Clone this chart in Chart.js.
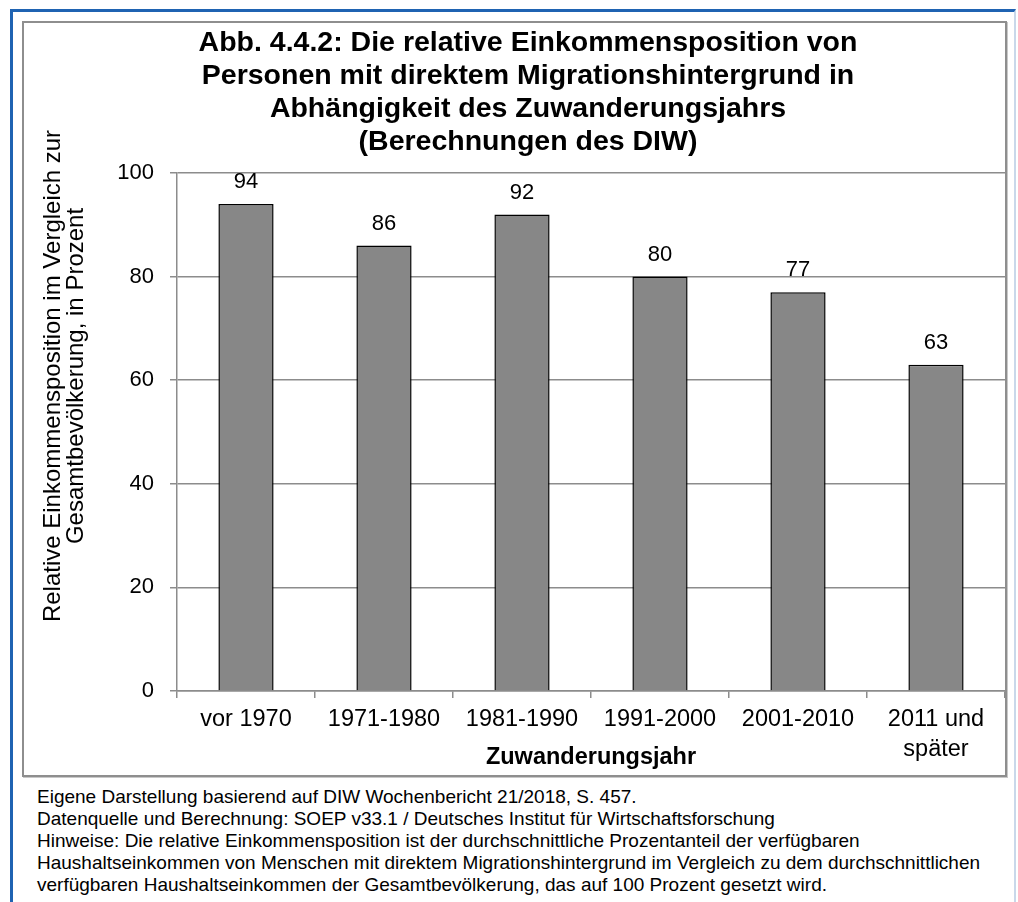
<!DOCTYPE html>
<html lang="de">
<head>
<meta charset="utf-8">
<title>Abb. 4.4.2</title>
<script src="https://cdn.jsdelivr.net/npm/chart.js@4/dist/chart.umd.min.js"></script>
<style>
    html, body { margin: 0; padding: 0; background: #fff; }
    body { width: 1018px; height: 902px; position: relative; overflow: hidden; font-family: "Liberation Sans", Arial, sans-serif; }
    #frame {
        position: absolute; left: 10px; top: 9px; width: 1001px; height: 1000px;
        border-top: 3px solid #1f63b2; border-left: 3px solid #1f63b2; border-right: 2px solid #c9d8ea;
    }
    #box {
        position: absolute; left: 22px; top: 21px; width: 981px; height: 752px;
        border: 2px solid #8e8e8e; box-shadow: 1px 1px 0 #c8c8c8; background: #fff;
    }
    #notes {
        position: absolute; left: 37px; top: 786px; font-size: 19px; line-height: 22px; color: #000;
    }
</style>
</head>
<body>
<div id="frame"></div>
<div id="box"><canvas id="chart" width="981" height="752"></canvas></div>
<div id="notes">
    Eigene Darstellung basierend auf DIW Wochenbericht 21/2018, S. 457.<br>
    Datenquelle und Berechnung: SOEP v33.1 / Deutsches Institut für Wirtschaftsforschung<br>
    Hinweise: Die relative Einkommensposition ist der durchschnittliche Prozentanteil der verfügbaren<br>
    Haushaltseinkommen von Menschen mit direktem Migrationshintergrund im Vergleich zu dem durchschnittlichen<br>
    verfügbaren Haushaltseinkommen der Gesamtbevölkerung, das auf 100 Prozent gesetzt wird.
</div>
<script>
// --- DONNÉES ---
const categories = ['vor 1970', '1971-1980', '1981-1990', '1991-2000', '2001-2010', ['2011 und', 'später']];
const values = [94, 86, 92, 80, 77, 63];
const yTicks = [0, 20, 40, 60, 80, 100];

const titleLines = [
    'Abb. 4.4.2: Die relative Einkommensposition von',
    'Personen mit direktem Migrationshintergrund in',
    'Abhängigkeit des Zuwanderungsjahrs',
    '(Berechnungen des DIW)'
];
const yTitleLines = ['Relative Einkommensposition im Vergleich zur', 'Gesamtbevölkerung, in Prozent'];
const xTitle = 'Zuwanderungsjahr';

const FONT = '"Liberation Sans", Arial, sans-serif';
const GRID = '#8c8c8c';

// titres + étiquettes de valeurs
const textPlugin = {
    id: 'texts',
    afterDatasetsDraw(chart) {
        const ctx = chart.ctx;
        const meta = chart.getDatasetMeta(0);
        ctx.save();
        ctx.fillStyle = '#000';
        ctx.font = '22px ' + FONT;
        ctx.textAlign = 'center';
        ctx.textBaseline = 'middle';
        meta.data.forEach((bar, i) => ctx.fillText(String(values[i]), bar.x, bar.y - 22));
        ctx.restore();
    },
    afterDraw(chart) {
        const ctx = chart.ctx;
        const area = chart.chartArea;
        ctx.save();
        ctx.fillStyle = '#000';
        ctx.textAlign = 'center';
        ctx.textBaseline = 'middle';

        // titre principal
        ctx.font = 'bold 28.5px ' + FONT;
        titleLines.forEach((t, i) => ctx.fillText(t, 504, 20 + i * 33));

        // titre axe X
        ctx.font = 'bold 23.5px ' + FONT;
        ctx.fillText(xTitle, (area.left + area.right) / 2, 735);

        // titre axe Y (vertical)
        ctx.font = '24px ' + FONT;
        ctx.translate(0, 353);
        ctx.rotate(-Math.PI / 2);
        yTitleLines.forEach((t, i) => ctx.fillText(t, 0, 29 + i * 23));
        ctx.restore();
    }
};

new Chart(document.getElementById('chart'), {
    type: 'bar',
    data: {
        labels: categories,
        datasets: [{
            data: values,
            backgroundColor: '#878787',
            borderColor: '#000',
            borderWidth: 1.5,
            barPercentage: 0.4,
            categoryPercentage: 1
        }]
    },
    options: {
        responsive: false,
        animation: false,
        layout: { padding: { top: 150, left: 0, right: 0, bottom: 0 } },
        plugins: { legend: { display: false }, tooltip: { enabled: false } },
        scales: {
            x: {
                grid: { display: true, drawOnChartArea: false, drawTicks: true, tickLength: 7, color: GRID, lineWidth: 1.5, offset: true },
                border: { color: GRID, width: 1.5 },
                ticks: { color: '#000', font: { family: FONT, size: 23.5, lineHeight: 1.3 }, padding: 6, maxRotation: 0, autoSkip: false },
                afterFit: s => { s.height = 84; }
            },
            y: {
                min: 0,
                max: 100,
                afterBuildTicks: s => { s.ticks = yTicks.map(v => ({ value: v })); },
                grid: { color: GRID, lineWidth: 1.5, tickLength: 7, drawTicks: true },
                border: { color: GRID, width: 1.5 },
                ticks: { color: '#000', font: { family: FONT, size: 22 }, padding: 16 },
                afterFit: s => { s.width = 153; }
            }
        }
    },
    plugins: [textPlugin]
});
</script>
</body>
</html>
